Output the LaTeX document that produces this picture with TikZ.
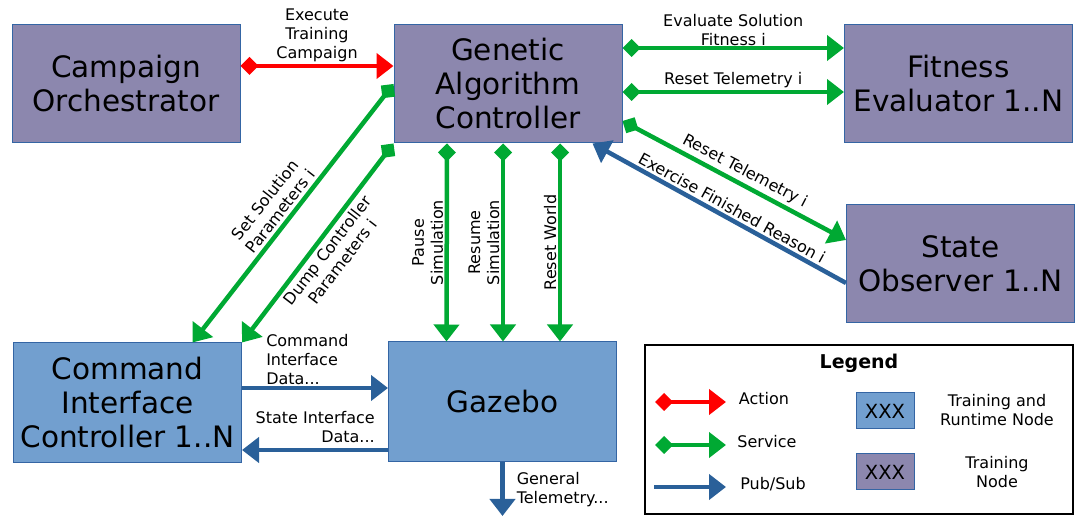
\documentclass[tikz,border=0pt]{standalone}
\usepackage{fontspec}
\setmainfont{DejaVu Sans}
\usetikzlibrary{arrows.meta,positioning}

\definecolor{trainpurple}{HTML}{8C87AE}
\definecolor{runblue}{HTML}{729FCF}
\definecolor{boxedge}{HTML}{3465A4}
\definecolor{srvgreen}{HTML}{00A933}
\definecolor{actred}{HTML}{FF0000}
\definecolor{pubblue}{HTML}{2A6099}

\begin{document}
\begin{tikzpicture}[
  x=1pt, y=-1pt,
  line width=4.5pt,
  bigbox/.style={draw=boxedge, line width=1pt, align=center, minimum width=228pt,
    minimum height=118pt, font=\fontsize{29.5}{34}\selectfont},
  trainnode/.style={bigbox, fill=trainpurple},
  runnode/.style={bigbox, fill=runblue},
  action/.style={draw=actred, {Diamond[length=18pt,width=18pt]}-{Triangle[length=17pt,width=25pt]}},
  service/.style={draw=srvgreen, {Diamond[length=18pt,width=18pt]}-{Triangle[length=17pt,width=25pt]}},
  pubsub/.style={draw=pubblue, -{Triangle[length=17pt,width=25pt]}},
  lbl/.style={font=\fontsize{16}{19}\selectfont, align=center, inner sep=2pt},
  vlbl/.style={lbl, anchor=south, rotate=90, inner sep=1.5pt}
]
  \useasboundingbox (0,0) rectangle (1088,526);

  % Main nodes
  \node[trainnode] (orch) at (126,84) {Campaign\\Orchestrator};
  \node[trainnode] (gac) at (508,84) {Genetic\\Algorithm\\Controller};
  \node[trainnode] (fit) at (958.5,84) {Fitness\\Evaluator 1..N};
  \node[trainnode] (obs) at (960.5,264) {State\\Observer 1..N};
  \node[runnode, minimum height=120pt] (cic) at (127.5,403) {Command\\Interface\\Controller 1..N};
  \node[runnode, minimum height=120pt] (gz) at (502.5,402) {Gazebo};
  \coordinate (telem) at (502.5,516);

  % --- Edges ---
  \draw[action] ([yshift=18pt]orch.east) -- node[lbl, above] {Execute\\Training\\Campaign} ([yshift=18pt]gac.west);

  % Fitness and observer
  \draw[service] ([yshift=36pt]gac.east) -- node[lbl, above, inner sep=0pt] {Evaluate Solution\\Fitness i} ([yshift=36pt]fit.west);
  \draw[service] ([yshift=-8pt]gac.east) -- node[lbl, above] {Reset Telemetry i} ([yshift=-8pt]fit.west);
  \draw[service] ([yshift=-37pt]gac.east) -- node[lbl, pos=0.52, anchor=south, rotate=-27.7, inner sep=3pt] {Reset Telemetry i} ([yshift=24pt]obs.west);
  \draw[pubsub] ([yshift=-19pt]obs.west) -- node[lbl, pos=0.47, anchor=south, rotate=-28.8, inner sep=2.5pt] {Exercise Finished Reason i} ([xshift=-30pt]gac.south east);

  % Controller parameters
  \draw[service] (gac.west) -- node[lbl, pos=0.52, anchor=south, rotate=52, inner sep=3pt] {Set Solution\\Parameters i} ([xshift=65pt]cic.north);
  \draw[service] (gac.south west) -- node[lbl, anchor=north, rotate=52.5, inner sep=3.5pt] {Dump Controller\\Parameters i} (cic.north east);

  % Simulation control
  \draw[service] ([xshift=-61pt]gac.south) -- node[vlbl] {Pause\\Simulation} ([xshift=-56pt]gz.north);
  \draw[service] ([xshift=-5pt]gac.south) -- node[vlbl] {Resume\\Simulation} ([xshift=0.5pt]gz.north);
  \draw[service] ([xshift=52pt]gac.south) -- node[vlbl] {Reset World} ([xshift=57.5pt]gz.north);

  % Interface data
  \draw[pubsub] ([yshift=15pt]cic.east) -- node[lbl, pos=0, anchor=south west, align=left, inner sep=1pt, xshift=21pt] {Command\\Interface\\Data...} ([yshift=14pt]gz.west);
  \draw[pubsub] ([yshift=-48pt]gz.west) -- node[lbl, pos=0, anchor=south east, align=right, xshift=-9pt, yshift=3pt] {State Interface\\Data...} ([yshift=-47pt]cic.east);
  \draw[pubsub] (gz.south) -- node[lbl, right, align=left, xshift=10pt] {General\\Telemetry...} (telem);

  % Legend
  \node[draw=black, line width=1.2pt, minimum width=428pt, minimum height=169pt] (legend) at (859,429.5) {};
  \node[font=\bfseries\fontsize{19}{22}\selectfont] (legtitle) at (859,363) {Legend};
  \coordinate (actS) at (655,402);  \coordinate (actE) at (726,402);
  \coordinate (srvS) at (655,445);  \coordinate (srvE) at (726,445);
  \coordinate (pubS) at (654,487);  \coordinate (pubE) at (726,487);
  \draw[action] (actS) -- (actE);
  \draw[service] (srvS) -- (srvE);
  \draw[pubsub] (pubS) -- (pubE);
  \node[lbl] (actlbl) at (764,399) {Action};
  \node[lbl] (srvlbl) at (767,442) {Service};
  \node[lbl] (publbl) at (773,484) {Pub/Sub};
  \node[runnode, minimum width=58pt, minimum height=36pt, font=\fontsize{19.5}{22}\selectfont] (legrun) at (885,411) {XXX};
  \node[trainnode, minimum width=58pt, minimum height=36pt, font=\fontsize{19.5}{22}\selectfont] (legtrain) at (885,472) {XXX};
  \node[lbl] (runlbl) at (997,410) {Training and\\Runtime Node};
  \node[lbl] (trainlbl) at (997,472) {Training\\Node};
\end{tikzpicture}
\end{document}
